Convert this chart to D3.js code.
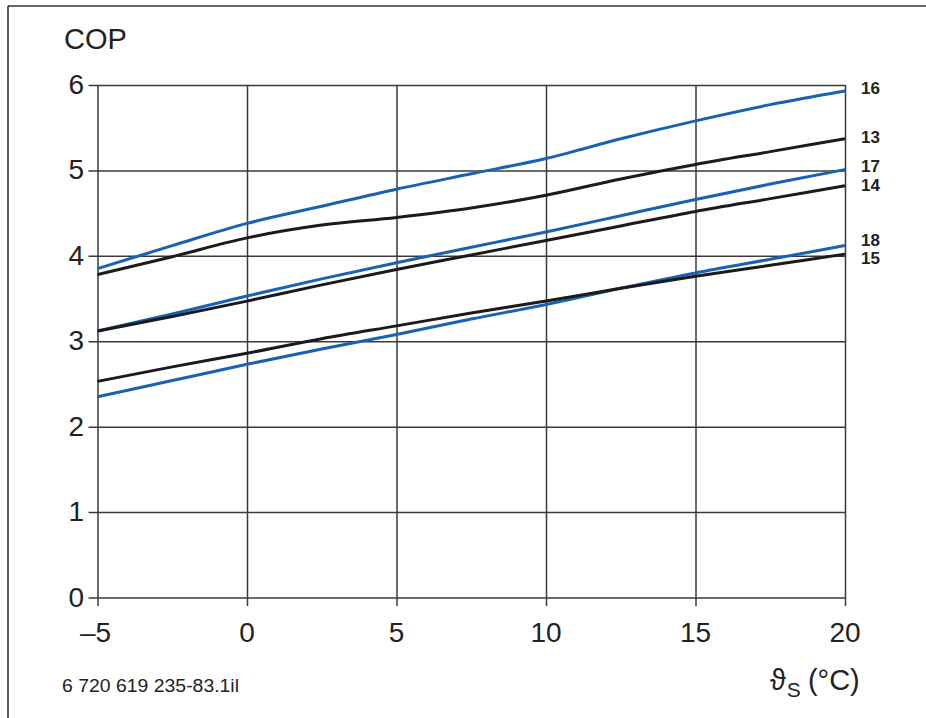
<!DOCTYPE html>
<html><head><meta charset="utf-8">
<script src="https://cdn.jsdelivr.net/npm/d3@7"></script>
<style>
html,body{margin:0;padding:0;background:#fff;}
svg{display:block;font-family:"Liberation Sans",Arial,Helvetica,sans-serif;}
</style></head>
<body>
<svg id="chart" width="926" height="718"></svg>
<script>
// ---- data ----
const temps = [-5, -2.5, 0, 2.5, 5, 7.5, 10, 12.5, 15, 17.5, 20];
const curve16 = [3.85, 4.12, 4.38, 4.58, 4.78, 4.96, 5.14, 5.37, 5.58, 5.77, 5.93];
const curve13 = [3.78, 3.99, 4.21, 4.36, 4.45, 4.56, 4.71, 4.90, 5.07, 5.22, 5.37];
const curve17 = [3.12, 3.32, 3.53, 3.73, 3.92, 4.10, 4.28, 4.47, 4.66, 4.84, 5.01];
const curve14 = [3.12, 3.29, 3.47, 3.66, 3.84, 4.01, 4.18, 4.35, 4.52, 4.67, 4.82];
const curve15 = [2.53, 2.70, 2.86, 3.03, 3.18, 3.33, 3.47, 3.62, 3.76, 3.89, 4.02];
const curve18 = [2.35, 2.54, 2.73, 2.91, 3.08, 3.26, 3.43, 3.62, 3.80, 3.96, 4.12];
const seriesNames = ["16", "13", "17", "14", "18", "15"];
const xTicks = [-5, 0, 5, 10, 15, 20];
const yTicks = [0, 1, 2, 3, 4, 5, 6];

// ---- styles ----
const BLUE = "#1862b6", BLACK = "#1b1b1b", GRID = "#3a3a3a";
const seriesData = {"16": curve16, "13": curve13, "17": curve17, "14": curve14, "18": curve18, "15": curve15};
const seriesColor = {"16": BLUE, "13": BLACK, "17": BLUE, "14": BLACK, "18": BLUE, "15": BLACK};
const labelDy = {"16": -2.5, "13": -2, "17": -3.5, "14": -1, "18": -5.5, "15": 4};

const svg = d3.select("#chart");
const x = d3.scaleLinear().domain([-5, 20]).range([97.5, 845]);
const y = d3.scaleLinear().domain([0, 6]).range([597.5, 85]);

// frame
svg.append("line").attr("x1", 8).attr("x2", 926).attr("y1", 6).attr("y2", 6)
  .attr("stroke", "#333").attr("stroke-width", 1.6);
svg.append("line").attr("x1", 8).attr("x2", 8).attr("y1", 6).attr("y2", 718)
  .attr("stroke", "#333").attr("stroke-width", 1.6);

// grid via axes
const yAxis = d3.axisLeft(y).tickValues(yTicks).tickSize(-(x(20) - x(-5))).tickPadding(0).tickFormat("");
const gy = svg.append("g").attr("transform", `translate(${x(-5)},0)`).call(yAxis);
gy.select(".domain").remove();
gy.selectAll(".tick line").attr("stroke", GRID).attr("stroke-width", 1.5).attr("x1", -9);

const xAxis = d3.axisBottom(x).tickValues(xTicks).tickSize(-(y(0) - y(6))).tickFormat("");
const gx = svg.append("g").attr("transform", `translate(0,${y(0)})`).call(xAxis);
gx.select(".domain").remove();
gx.selectAll(".tick line").attr("stroke", GRID).attr("stroke-width", 1.5).attr("y1", 8.5);

// tick labels
svg.append("g").selectAll("text").data(yTicks).join("text")
  .attr("x", 84).attr("y", d => y(d) + 9).attr("text-anchor", "end")
  .attr("font-size", 28).attr("fill", "#222").text(d => d);
svg.append("g").selectAll("text").data(xTicks).join("text")
  .attr("x", d => x(d) + (d < 0 ? -2 : 0)).attr("y", 642).attr("text-anchor", "middle")
  .attr("font-size", 28).attr("fill", "#222").text(d => d < 0 ? "\u2013" + Math.abs(d) : d);

// lines
const line = d3.line().x((d, i) => x(temps[i])).y(d => y(d)).curve(d3.curveMonotoneX);
seriesNames.forEach(n => {
  svg.append("path").datum(seriesData[n]).attr("d", line)
    .attr("fill", "none").attr("stroke", seriesColor[n]).attr("stroke-width", 3)
    .attr("stroke-linecap", "butt");
});

// end labels
svg.append("g").selectAll("text").data(seriesNames).join("text")
  .attr("x", 861).attr("y", n => y(seriesData[n][seriesData[n].length - 1]) + labelDy[n] + 6)
  .attr("font-size", 17).attr("font-weight", "bold").attr("fill", "#222").text(n => n);

// titles
svg.append("text").attr("x", 64).attr("y", 49).attr("font-size", 29).attr("fill", "#222").text("COP");
svg.append("text").attr("x", 62).attr("y", 692).attr("font-size", 18).attr("fill", "#222")
  .attr("textLength", 177).attr("lengthAdjust", "spacingAndGlyphs").text("6 720 619 235-83.1il");
const t = svg.append("text").attr("x", 770).attr("y", 690).attr("font-size", 29).attr("fill", "#222");
t.append("tspan").text("\u03d1");
t.append("tspan").attr("dy", 7).attr("dx", 1).attr("font-size", 21).text("S");
t.append("tspan").attr("dy", -7).attr("dx", 7).text("(\u00b0C)");
</script>
</body></html>
